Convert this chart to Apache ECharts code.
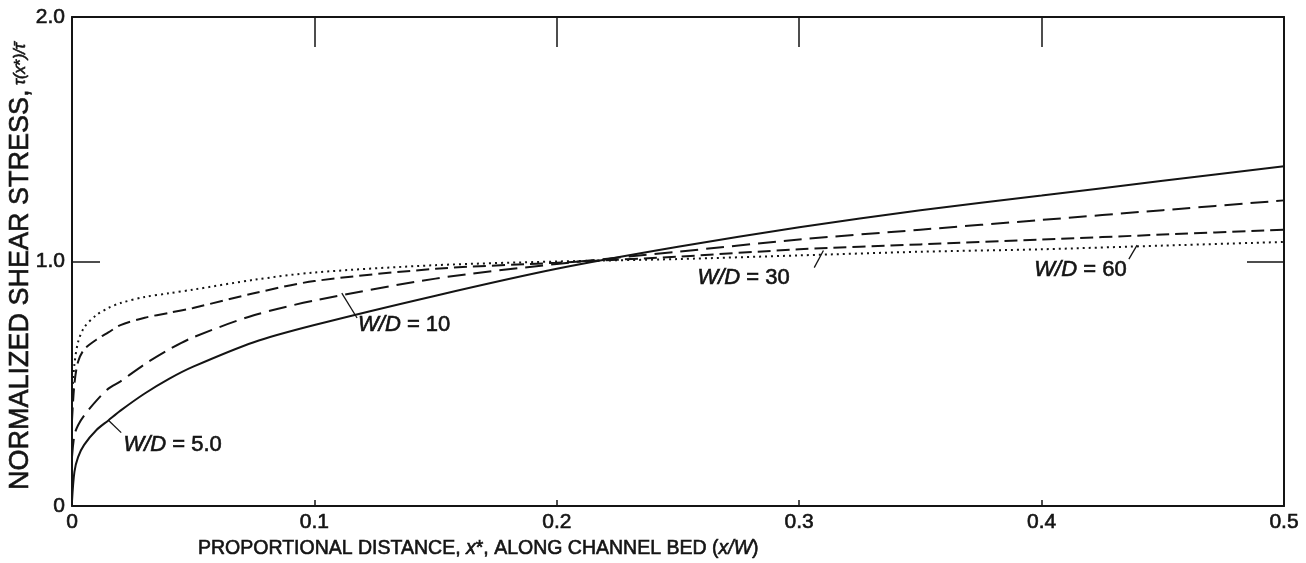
<!DOCTYPE html>
<html>
<head>
<meta charset="utf-8">
<script src="https://cdn.jsdelivr.net/npm/echarts@6/dist/echarts.min.js"></script>
<style>
html,body{margin:0;padding:0;background:#fff;}
#c{width:1306px;height:563px;}
</style>
</head>
<body>
<div id="c"></div>
<script>
// ---- data ----
const xValues = [0, 0.001, 0.0025, 0.005, 0.01, 0.015, 0.02, 0.03, 0.04, 0.05, 0.075, 0.1, 0.15, 0.2, 0.25, 0.3, 0.35, 0.4, 0.45, 0.5];
const wd5  = [0.02, 0.14, 0.20, 0.25, 0.31, 0.35, 0.39, 0.46, 0.52, 0.57, 0.67, 0.74, 0.86, 0.97, 1.06, 1.14, 1.21, 1.27, 1.33, 1.39];
const wd10 = [0.20, 0.29, 0.33, 0.37, 0.43, 0.48, 0.51, 0.58, 0.64, 0.69, 0.78, 0.84, 0.93, 0.99, 1.04, 1.09, 1.13, 1.17, 1.21, 1.25];
const wd30 = [0.35, 0.50, 0.59, 0.64, 0.68, 0.71, 0.74, 0.77, 0.79, 0.81, 0.87, 0.92, 0.97, 0.995, 1.02, 1.05, 1.07, 1.09, 1.11, 1.13];
const wd60 = [0.45, 0.58, 0.67, 0.73, 0.78, 0.81, 0.83, 0.855, 0.87, 0.885, 0.925, 0.955, 0.985, 1.0, 1.01, 1.025, 1.04, 1.05, 1.065, 1.08];
const seriesNames = ['5.0', '10', '30', '60'];
const xTickValues = [0, 0.1, 0.2, 0.3, 0.4, 0.5];
const yTickValues = [0, 1, 2];

// ---- annotation placement (data coordinates) ----
const annotations = [
  { name: seriesNames[0], text: [0.0212, 0.25], lead: [[0.0149, 0.352], [0.0203, 0.300]] },
  { name: seriesNames[1], text: [0.1180, 0.74], lead: [[0.1113, 0.871], [0.1176, 0.769]] },
  { name: seriesNames[2], text: [0.2580, 0.933], lead: [[0.3100, 1.045], [0.3062, 0.975]] },
  { name: seriesNames[3], text: [0.3970, 0.965], lead: [[0.4394, 1.067], [0.4360, 1.010]] }
];

const ink = '#141414';
const FONT = '"Liberation Sans", Arial, Helvetica, sans-serif';
const fmt = v => (v === 0 ? '0' : v.toFixed(1));
const heavy = { textBorderColor: ink, textBorderWidth: 0.6 };

const chart = echarts.init(document.getElementById('c'), null, { renderer: 'canvas' });

function mk(name, data, type, width) {
  return {
    name: name,
    type: 'line',
    smooth: 0.3,
    symbol: 'none',
    data: xValues.map((x, i) => [x, data[i]]),
    lineStyle: { color: ink, width: width || 2, type: type, cap: 'butt' },
    z: 3
  };
}

const option = {
  backgroundColor: '#fff',
  animation: false,
  grid: { left: 72, right: 22, top: 17, bottom: 57, containLabel: false, outerBoundsMode: 'none' },
  xAxis: [
    {
      type: 'value', min: 0, max: 0.5, interval: 0.1, position: 'bottom',
      axisLine: { show: true, onZero: false, lineStyle: { color: ink, width: 2 } },
      axisTick: { show: true, inside: true, length: 6, lineStyle: { color: ink, width: 1.5 } },
      axisLabel: Object.assign({ formatter: fmt, color: ink, fontSize: 21, fontFamily: FONT, margin: 6 }, heavy),
      splitLine: { show: false }
    },
    {
      type: 'value', min: 0, max: 0.5, interval: 0.1, position: 'top',
      axisLine: { show: true, onZero: false, lineStyle: { color: ink, width: 2 } },
      axisTick: { show: true, inside: true, length: 30, lineStyle: { color: ink, width: 1.5 } },
      axisLabel: { show: false },
      splitLine: { show: false }
    }
  ],
  yAxis: [
    {
      type: 'value', min: 0, max: 2, interval: 1, position: 'left',
      axisLine: { show: true, onZero: false, lineStyle: { color: ink, width: 2 } },
      axisTick: { show: true, inside: true, length: 28, lineStyle: { color: ink, width: 1.5 } },
      axisLabel: Object.assign({ formatter: fmt, color: ink, fontSize: 21, fontFamily: FONT, margin: 7 }, heavy),
      splitLine: { show: false }
    },
    {
      type: 'value', min: 0, max: 2, interval: 1, position: 'right',
      axisLine: { show: true, onZero: false, lineStyle: { color: ink, width: 2 } },
      axisTick: { show: true, inside: true, length: 37, lineStyle: { color: ink, width: 1.5 } },
      axisLabel: { show: false },
      splitLine: { show: false }
    }
  ],
  series: [
    mk('W/D = ' + seriesNames[0], wd5, 'solid', 2),
    mk('W/D = ' + seriesNames[1], wd10, [18, 8], 2),
    mk('W/D = ' + seriesNames[2], wd30, [13, 6], 2),
    mk('W/D = ' + seriesNames[3], wd60, [2, 4], 2)
  ]
};
chart.setOption(option);

function placeAnnotations() {
  const els = [];
  const tb = { stroke: ink, lineWidth: 0.6 };
  annotations.forEach(a => {
    const p = chart.convertToPixel({ gridIndex: 0 }, a.text);
    const l0 = chart.convertToPixel({ gridIndex: 0 }, a.lead[0]);
    const l1 = chart.convertToPixel({ gridIndex: 0 }, a.lead[1]);
    els.push({
      type: 'line', silent: true, z: 10,
      shape: { x1: l0[0], y1: l0[1], x2: l1[0], y2: l1[1] },
      style: { stroke: ink, lineWidth: 1.3 }
    });
    els.push({
      type: 'text', silent: true, z: 10,
      x: p[0], y: p[1],
      style: {
        text: '{i|W/D}{n| = ' + a.name + '}',
        verticalAlign: 'middle',
        align: 'left',
        rich: {
          i: Object.assign({ fontSize: 22, fontFamily: FONT, fontStyle: 'italic', fill: ink }, tb),
          n: Object.assign({ fontSize: 22, fontFamily: FONT, fill: ink }, tb)
        }
      }
    });
  });
  // x-axis title
  els.push({
    type: 'text', silent: true, z: 10,
    x: 198, y: 549,
    style: {
      text: '{a|PROPORTIONAL DISTANCE, }{i|x}{a|*, ALONG CHANNEL BED (}{i|x/W}{a|)}',
      verticalAlign: 'middle',
      align: 'left',
      rich: {
        a: Object.assign({ fontSize: 19.5, fontFamily: FONT, fill: ink }, tb),
        i: Object.assign({ fontSize: 19.5, fontFamily: FONT, fontStyle: 'italic', fill: ink }, tb)
      }
    }
  });
  // y-axis title (rotated)
  els.push({
    type: 'text', silent: true, z: 10,
    x: 21, y: 490,
    rotation: Math.PI / 2,
    style: {
      text: '{a|NORMALIZED SHEAR STRESS,}{b| \u03C4(x}{s|*}{b|)/\u03C4\u0304}',
      verticalAlign: 'middle',
      align: 'left',
      rich: {
        a: Object.assign({ fontSize: 27, fontFamily: FONT, fill: ink }, tb),
        b: Object.assign({ fontSize: 16, fontFamily: FONT, fontStyle: 'italic', fill: ink }, tb),
        s: Object.assign({ fontSize: 17, fontFamily: FONT, fill: ink }, tb)
      }
    }
  });
  chart.setOption({ graphic: { elements: els } });
}
placeAnnotations();
</script>
</body>
</html>
